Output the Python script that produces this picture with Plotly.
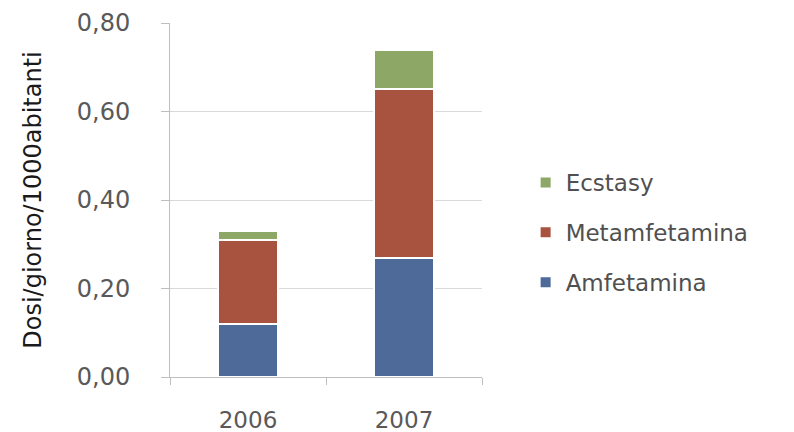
import plotly.graph_objects as go

# Consumption of amphetamine-type stimulants (doses/day per 1000 inhabitants)
years = ["2006", "2007"]
amfetamina = [0.12, 0.27]
metamfetamina = [0.19, 0.38]
ecstasy = [0.02, 0.09]

# name, values, colour, legend position (top to bottom)
series = [
    ("Amfetamina", amfetamina, "#4E6A98", 3),
    ("Metamfetamina", metamfetamina, "#A8533F", 2),
    ("Ecstasy", ecstasy, "#8DA766", 1),
]

y_ticks = [0, 0.2, 0.4, 0.6, 0.8]
y_tick_text = ["0,00", "0,20", "0,40", "0,60", "0,80"]

fig = go.Figure()
for name, values, color, rank in series:
    fig.add_trace(go.Bar(
        x=years, y=values, name=name, legendgroup=name, legendrank=rank,
        marker=dict(color=color, line=dict(color="white", width=2)),
    ))

font_family = "DejaVu Sans"
fig.update_layout(
    width=794, height=432,
    margin=dict(l=170, r=312, t=23, b=55),
    barmode="stack", bargap=0.62,
    plot_bgcolor="white", paper_bgcolor="white",
    font=dict(family=font_family, color="#595959", size=22),
    legend=dict(
        xref="container", yref="container",
        x=0.662, y=1 - 161 / 432, xanchor="left", yanchor="top",
        traceorder="grouped", tracegroupgap=17,
        font=dict(size=23, color="#505050"),
        itemwidth=30,
    ),
    xaxis=dict(
        type="category", showline=True, linecolor="#BFBFBF", linewidth=1,
        ticks="outside", tickson="boundaries", ticklen=7, tickcolor="#BFBFBF",
        tickfont=dict(size=23, color="#595959"), ticklabelstandoff=22,
        automargin=False,
    ),
    yaxis=dict(
        range=[0, 0.8], tickvals=y_ticks, ticktext=y_tick_text,
        showline=True, linecolor="#BFBFBF", linewidth=1,
        ticks="outside", ticklen=8, tickcolor="#BFBFBF",
        showgrid=True, gridcolor="#D9D9D9", gridwidth=1,
        zeroline=False, automargin=False,
        tickfont=dict(size=24, color="#595959"), ticklabelstandoff=26,
        title=dict(text="Dosi/giorno/1000abitanti", standoff=28,
                   font=dict(size=24, color="#1A1A1A")),
    ),
)

fig.write_html("out.html")
